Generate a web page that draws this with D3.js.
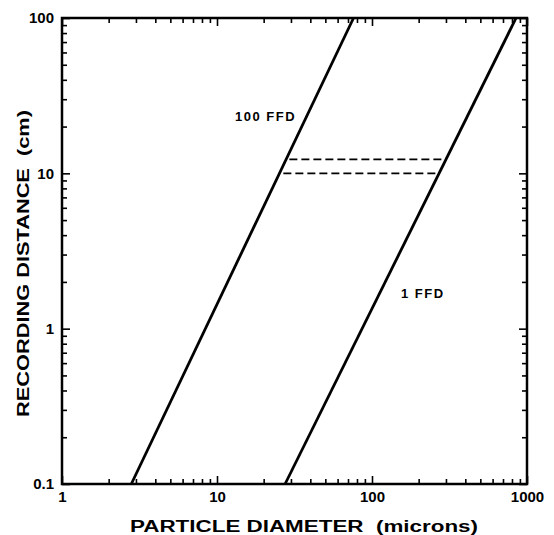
<!DOCTYPE html>
<html>
<head>
<meta charset="utf-8">
<script src="https://cdn.jsdelivr.net/npm/d3@7"></script>
<style>
  body { margin: 0; background: #fff; }
  text { font-family: "Liberation Sans", Arial, sans-serif; font-weight: bold; fill: #000; }
</style>
</head>
<body>
<div id="chart"></div>
<script>
// data
var xDecades = [1, 10, 100, 1000];
var yDecades = [0.1, 1, 10, 100];
var xLabels = ["1", "10", "100", "1000"];
var yLabels = ["0.1", "1", "10", "100"];

// solid lines: [diameter, distance] end points
var ffd100 = [[2.8, 0.1], [76, 100]];
var ffd1 = [[27.5, 0.1], [850, 100]];
// dashed connectors
var dashUpper = [[29.3, 12.3], [299, 12.3]];
var dashLower = [[26.8, 10], [265, 10]];

var w = 554, h = 535;
var mLeft = 62, mRight = 527, mTop = 18, mBottom = 484;

var svg = d3.select("#chart").append("svg")
    .attr("width", w)
    .attr("height", h);

var x = d3.scaleLog().domain([1, 1000]).range([mLeft, mRight]);
var y = d3.scaleLog().domain([0.1, 100]).range([mBottom, mTop]);

// minor tick values 2..9 per decade
function minors(decs) {
    var out = [];
    for (var i = 0; i < decs.length - 1; i++) {
        for (var k = 2; k <= 9; k++) out.push(decs[i] * k);
    }
    return out;
}
var xMinor = minors(xDecades);
var yMinor = minors(yDecades);

function styleAxis(g) {
    g.select(".domain").remove();
    g.selectAll("line").attr("stroke", "#000").attr("stroke-width", 1.6);
}

// bottom
svg.append("g").attr("transform", "translate(0," + mBottom + ")")
    .call(d3.axisBottom(x).tickValues(xMinor).tickFormat("").tickSize(-5))
    .call(styleAxis);
svg.append("g").attr("transform", "translate(0," + mBottom + ")")
    .call(d3.axisBottom(x).tickValues(xDecades).tickSize(-8).tickPadding(7)
        .tickFormat(function (d, i) { return xLabels[i]; }))
    .call(styleAxis)
    .selectAll("text").attr("font-size", "15px").attr("fill", "#000");
// top
svg.append("g").attr("transform", "translate(0," + mTop + ")")
    .call(d3.axisTop(x).tickValues(xMinor).tickFormat("").tickSize(-5))
    .call(styleAxis);
svg.append("g").attr("transform", "translate(0," + mTop + ")")
    .call(d3.axisTop(x).tickValues(xDecades).tickFormat("").tickSize(-8))
    .call(styleAxis);
// left
svg.append("g").attr("transform", "translate(" + mLeft + ",0)")
    .call(d3.axisLeft(y).tickValues(yMinor).tickFormat("").tickSize(-5))
    .call(styleAxis);
svg.append("g").attr("transform", "translate(" + mLeft + ",0)")
    .call(d3.axisLeft(y).tickValues(yDecades).tickSize(-8).tickPadding(8)
        .tickFormat(function (d, i) { return yLabels[i]; }))
    .call(styleAxis)
    .selectAll("text").attr("font-size", "15px").attr("fill", "#000");
// right
svg.append("g").attr("transform", "translate(" + mRight + ",0)")
    .call(d3.axisRight(y).tickValues(yMinor).tickFormat("").tickSize(-5))
    .call(styleAxis);
svg.append("g").attr("transform", "translate(" + mRight + ",0)")
    .call(d3.axisRight(y).tickValues(yDecades).tickFormat("").tickSize(-8))
    .call(styleAxis);

// frame
svg.append("rect")
    .attr("x", mLeft).attr("y", mTop)
    .attr("width", mRight - mLeft).attr("height", mBottom - mTop)
    .attr("fill", "none").attr("stroke", "#000").attr("stroke-width", 2.5);

var line = d3.line()
    .x(function (d) { return x(d[0]); })
    .y(function (d) { return y(d[1]); });

[ffd100, ffd1].forEach(function (pts) {
    svg.append("path").datum(pts)
        .attr("d", line)
        .attr("fill", "none").attr("stroke", "#000").attr("stroke-width", 2.8);
});
[dashUpper, dashLower].forEach(function (pts) {
    svg.append("path").datum(pts)
        .attr("d", line)
        .attr("fill", "none").attr("stroke", "#000").attr("stroke-width", 1.6)
        .attr("stroke-dasharray", "8,4");
});

// line labels
svg.append("text").attr("x", 235).attr("y", 121)
    .attr("font-size", "13px").attr("letter-spacing", "1.5px")
    .text("100 FFD");
svg.append("text").attr("x", 401).attr("y", 298)
    .attr("font-size", "13px").attr("letter-spacing", "1.5px")
    .text("1 FFD");

// axis titles
svg.append("text").attr("x", 130).attr("y", 532)
    .attr("font-size", "16px")
    .attr("textLength", 348).attr("lengthAdjust", "spacingAndGlyphs")
    .attr("xml:space", "preserve")
    .text("PARTICLE DIAMETER  (microns)");
svg.append("text")
    .attr("transform", "translate(29,417) rotate(-90)")
    .attr("font-size", "16px")
    .attr("textLength", 307).attr("lengthAdjust", "spacingAndGlyphs")
    .attr("xml:space", "preserve")
    .text("RECORDING DISTANCE  (cm)");
</script>
</body>
</html>
